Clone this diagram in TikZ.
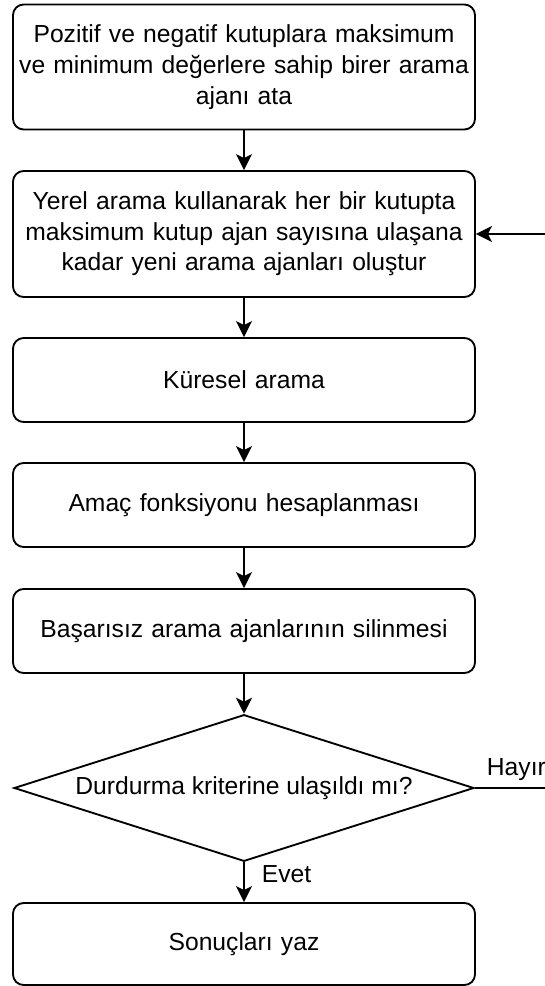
\documentclass[tikz,border=0pt]{standalone}
\usepackage{fontspec}
\setmainfont{Liberation Sans}
\usetikzlibrary{shapes.geometric,arrows.meta}

\begin{document}
\begin{tikzpicture}[x=0.75pt,y=-0.75pt,>={Stealth[length=12pt,width=12pt,inset=3pt]},line width=1.4pt,
  font=\fontsize{18.5}{23}\selectfont,
  proc/.style={rectangle,rounded corners=8pt,draw,minimum width=346.5pt,inner sep=0pt,text width=340pt,align=center},
  decis/.style={diamond,draw,aspect=3.1,minimum width=345pt,minimum height=110pt,inner sep=0pt,align=center}]

\useasboundingbox (0,0) rectangle (545,986);

\node(ata) at (244,67)[proc,minimum height=93.75pt] {Pozitif ve negatif kutuplara maksimum\\ve minimum değerlere sahip birer arama\\ajanı ata};
\node(yerel) at (244,234)[proc,minimum height=94.5pt] {Yerel arama kullanarak her bir kutupta\\maksimum kutup ajan sayısına ulaşana\\kadar yeni arama ajanları oluştur};
\node(kuresel) at (244,380)[proc,minimum height=63pt] {Küresel arama};
\node(amac) at (244,505)[proc,minimum height=63pt] {Amaç fonksiyonu hesaplanması};
\node(sil) at (244,631)[proc,minimum height=63pt] {Başarısız arama ajanlarının silinmesi};
\node(kriter) at (244,788)[decis] {Durdurma kriterine ulaşıldı mı?};
\node(sonuc) at (244,944)[proc,minimum height=61.5pt] {Sonuçları yaz};

\node(evet) at (261,882)[anchor=base west,inner sep=0pt] {Evet};
\node(hayir) at (486,775)[anchor=base west,inner sep=0pt] {Hayır};

\draw[->] (ata) -- (yerel);
\draw[->] (yerel) -- (kuresel);
\draw[->] (kuresel) -- (amac);
\draw[->] (amac) -- (sil);
\draw[->] (sil) -- (kriter);
\draw[->] (kriter) -- (sonuc);
\draw[->] (kriter.east) -- ++(140,0) |- (yerel.east);

\end{tikzpicture}
\end{document}
